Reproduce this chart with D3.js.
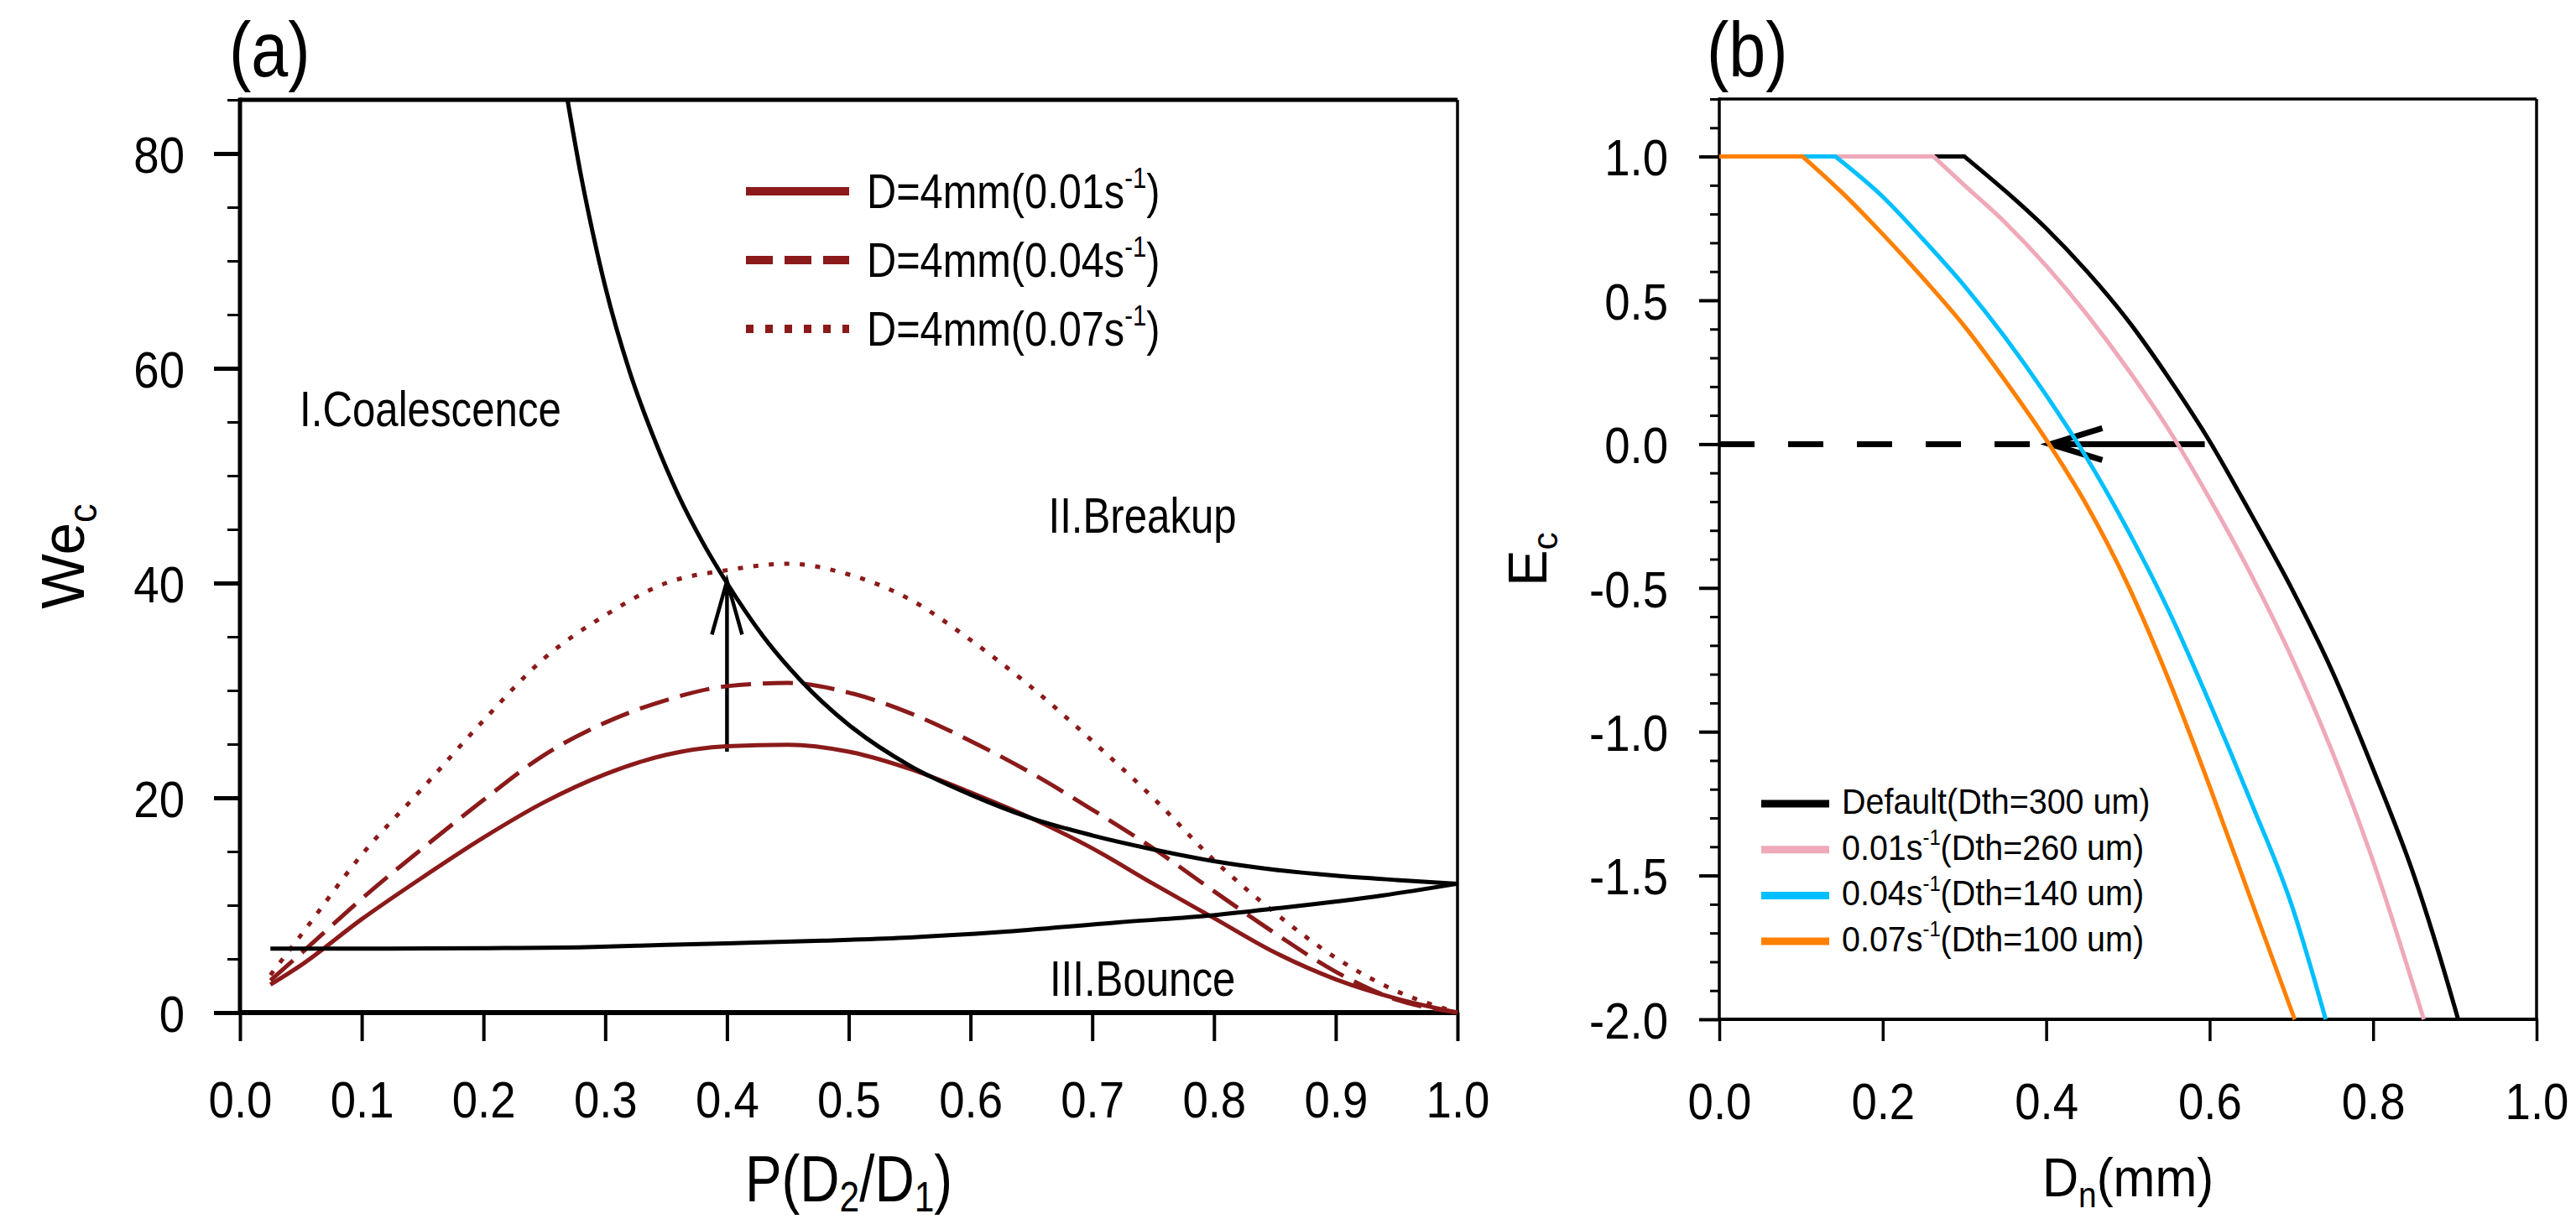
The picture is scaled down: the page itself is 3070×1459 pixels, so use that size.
<!DOCTYPE html>
<html><head><meta charset="utf-8">
<script src="https://cdn.jsdelivr.net/npm/d3@7"></script>
<style>html,body{margin:0;padding:0;background:#fff}svg{display:block;background:#fff}</style>
</head><body>
<svg id="chart" width="3070" height="1459"></svg>
<script>
// ---------------- DATA: panel (a) ----------------
const aX = [0.025,0.05,0.1,0.15,0.2,0.25,0.3,0.35,0.4,0.45,0.5,0.55,0.6,0.65,0.7,0.75,0.8,0.85,0.9,0.95,1.0];
const aRate001 = [2.6,4.4,8.7,12.6,16.3,19.6,22.2,24.0,24.8,24.95,24.3,22.7,20.5,18.1,15.3,12.0,8.8,5.6,3.1,1.3,0.0];
const aRate004 = [3.0,5.5,10.6,15.3,19.8,24.0,27.0,29.1,30.4,30.7,29.8,27.9,25.3,22.3,18.9,15.3,11.3,7.4,3.8,1.2,0.0];
const aRate007 = [3.5,7.2,14.7,20.9,27.2,33.0,37.0,40.0,41.2,41.8,40.8,38.5,34.7,30.3,25.3,20.0,14.2,9.3,5.1,2.0,0.0];
const breakupX = [0.269,0.28,0.29,0.30,0.32,0.34,0.36,0.38,0.40,0.43,0.46,0.50,0.55,0.60,0.65,0.70,0.75,0.80,0.85,0.90,0.95,1.0];
const breakupY = [85,78.0,72.5,67.6,59.7,53.5,48.2,43.8,40.0,35.0,31.0,26.8,23.0,20.3,18.1,16.5,15.2,14.1,13.3,12.75,12.35,12.0];
const bounceX = [0.025,0.1,0.2,0.285,0.35,0.4,0.479,0.55,0.624,0.721,0.793,0.851,0.938,1.0];
const bounceY = [5.95,5.95,6.0,6.1,6.3,6.45,6.7,7.0,7.5,8.4,9.0,9.7,10.9,12.0];
const aLegend = ["0.01","0.04","0.07"];
const aTicksX = [0,0.1,0.2,0.3,0.4,0.5,0.6,0.7,0.8,0.9,1.0];
const aTicksY = [0,20,40,60,80];
const aMinorY = [5,10,15,25,30,35,45,50,55,65,70,75,85];
const aArrow = {x:0.4, from:24.3, to:40.2};
const aRegions = [
  {text:"I.Coalescence", x:0.049, y:54.6},
  {text:"II.Breakup", x:0.664, y:44.7},
  {text:"III.Bounce", x:0.665, y:1.57}
];

// ---------------- DATA: panel (b) ----------------
const bDefaultX = [0,0.3,0.35,0.40,0.45,0.50,0.55,0.60,0.65,0.70,0.75,0.80,0.85,0.90,0.904];
const bDefaultY = [1,1,0.88,0.75,0.60,0.43,0.23,0.01,-0.24,-0.50,-0.79,-1.13,-1.50,-1.96,-2.0];
const b001X = [0,0.262,0.30,0.35,0.40,0.45,0.50,0.55,0.60,0.65,0.70,0.75,0.80,0.85,0.862];
const b001Y = [1,1,0.90,0.77,0.62,0.45,0.26,0.05,-0.19,-0.45,-0.74,-1.07,-1.45,-1.89,-2.0];
const b004X = [0,0.142,0.20,0.25,0.30,0.35,0.40,0.45,0.50,0.55,0.60,0.65,0.70,0.742];
const b004Y = [1,1,0.86,0.71,0.55,0.37,0.17,-0.05,-0.30,-0.58,-0.90,-1.24,-1.60,-2.0];
const b007X = [0,0.102,0.15,0.20,0.25,0.30,0.35,0.40,0.45,0.50,0.55,0.60,0.65,0.704];
const b007Y = [1,1,0.875,0.73,0.575,0.41,0.22,0.015,-0.215,-0.49,-0.82,-1.19,-1.58,-2.0];
const bLegendRate = [null,"0.01","0.04","0.07"];
const bLegendDth = ["300","260","140","100"];
const bColors = ["#000000","#EFA9B9","#00BFFF","#FF8000"];
const bTicksX = [0,0.2,0.4,0.6,0.8,1.0];
const bTicksY = [-2,-1.5,-1,-0.5,0,0.5,1];
const bMinorY = [-1.9,-1.8,-1.7,-1.6,-1.4,-1.3,-1.2,-1.1,-0.9,-0.8,-0.7,-0.6,-0.4,-0.3,-0.2,-0.1,0.1,0.2,0.3,0.4,0.6,0.7,0.8,0.9,1.1,1.2];
const bDashed = {from:0, to:0.382, y:0};
const bArrow = {from:0.594, to:0.405, y:0};

// ---------------- DRAWING ----------------
const FONT = "'Liberation Sans', Arial, Helvetica, sans-serif";
const RED = "#8B1A1A";
const svg = d3.select("#chart");

function addText(parent, x, y, parts, o) {
  const g = parent.append("g").attr("transform", `translate(${x},${y})` + (o.rotate ? ` rotate(${o.rotate})` : ""));
  const t = g.append("text").attr("transform", `scale(${o.sx || 1},1)`)
    .attr("font-family", FONT).attr("font-size", o.size)
    .attr("text-anchor", o.anchor || "start").attr("fill", "#000");
  let shift = 0;
  const subShift = o.subShift !== undefined ? o.subShift : 0.2;
  parts.forEach(p => {
    const s = typeof p === "string" ? {t: p} : p;
    let target = 0, fs = o.size;
    if (s.sub) { target = subShift * o.size; fs = 0.65 * o.size; }
    if (s.sup) { target = -0.42 * o.size; fs = 0.6 * o.size; }
    t.append("tspan").attr("dy", target - shift).attr("font-size", fs).text(s.t);
    shift = target;
  });
  return t;
}

function yAxis(scale, x0, major, minor, o) {
  const g1 = svg.append("g").attr("transform", `translate(${x0},0)`);
  g1.call(d3.axisLeft(scale).tickValues(minor).tickSize(o.minorLen).tickFormat(""));
  g1.select(".domain").remove();
  g1.selectAll("line").attr("stroke", "#000").attr("stroke-width", o.minorW);
  const g2 = svg.append("g").attr("transform", `translate(${x0},0)`);
  g2.call(d3.axisLeft(scale).tickValues(major).tickSize(o.majorLen).tickFormat(o.fmt));
  g2.select(".domain").remove();
  g2.selectAll("line").attr("stroke", "#000").attr("stroke-width", o.majorW);
  g2.selectAll("text").attr("x", -o.gap / o.sx).attr("dy", "0.36em")
    .attr("transform", `scale(${o.sx},1)`).attr("font-size", o.size)
    .attr("font-family", FONT).attr("fill", "#000");
}
function xAxis(scale, y0, major, o) {
  const g = svg.append("g").attr("transform", `translate(0,${y0})`);
  g.call(d3.axisBottom(scale).tickValues(major).tickSize(o.len).tickFormat(o.fmt));
  g.select(".domain").remove();
  g.selectAll("line").attr("stroke", "#000").attr("stroke-width", o.w);
  g.selectAll("text").attr("y", o.base).attr("dy", 0)
    .attr("transform", `scale(${o.sx},1)`).attr("font-size", o.size)
    .attr("font-family", FONT).attr("fill", "#000");
}
function seg(x1, y1, x2, y2, w, color, dash) {
  const l = svg.append("line").attr("x1", x1).attr("y1", y1).attr("x2", x2).attr("y2", y2)
    .attr("stroke", color || "#000").attr("stroke-width", w);
  if (dash) l.attr("stroke-dasharray", dash);
  return l;
}

// ===== Panel (a) =====
const xa = d3.scaleLinear().domain([0, 1]).range([286, 1737]);
const ya = d3.scaleLinear().domain([0, 85]).range([1207, 119]);

yAxis(ya, 286, aTicksY, aMinorY, {minorLen:15, minorW:3, majorLen:31, majorW:5, gap:66, sx:0.88, size:62, fmt:d3.format("d")});
xAxis(xa, 1207, aTicksX, {len:34, w:4, base:125, sx:0.88, size:62, fmt:d => d.toFixed(1)});

// frame
seg(xa(0), ya(85), xa(1), ya(85), 5);
seg(xa(0), ya(85) - 2.5, xa(0), ya(0) + 3, 5);
seg(xa(0) - 2, ya(0), xa(1) + 2, ya(0), 6);
seg(xa(1), ya(85), xa(1), ya(0), 3.5);

// arrow (a)
{
  const ax = xa(aArrow.x), y0 = ya(aArrow.from), y1 = ya(aArrow.to);
  svg.append("path").attr("d", `M${ax},${y0}L${ax},${y1}M${ax - 18},${y1 + 64}L${ax},${y1}L${ax + 18},${y1 + 64}`)
    .attr("fill", "none").attr("stroke", "#000").attr("stroke-width", 4.5).attr("stroke-linejoin", "miter");
}

const lineA = d3.line().x(d => xa(d[0])).y(d => ya(d[1])).curve(d3.curveMonotoneX);
const redSeries = [
  {vals: aRate001, dash: null},
  {vals: aRate004, dash: "36,14"},
  {vals: aRate007, dash: "6,12.5"}
];
redSeries.forEach(s => {
  const p = svg.append("path").datum(aX.map((x, i) => [x, s.vals[i]])).attr("d", lineA)
    .attr("fill", "none").attr("stroke", RED).attr("stroke-width", 5);
  if (s.dash) p.attr("stroke-dasharray", s.dash);
});
svg.append("path").datum(breakupX.map((x, i) => [x, breakupY[i]])).attr("d", lineA)
  .attr("fill", "none").attr("stroke", "#000").attr("stroke-width", 5);
svg.append("path").datum(bounceX.map((x, i) => [x, bounceY[i]])).attr("d", lineA)
  .attr("fill", "none").attr("stroke", "#000").attr("stroke-width", 5);

// region labels
aRegions.forEach(r => addText(svg, xa(r.x), ya(r.y), [r.text], {size:60, sx:0.82}));

// legend (a)
const aLegDash = [null, "32,14", "9,14"];
aLegend.forEach((rate, i) => {
  const ly = 228 + i * 82;
  seg(889, ly, 1012, ly, 10, RED, aLegDash[i]);
  addText(svg, 1033, ly + 20, ["D=4mm(" + rate + "s", {t:"-1", sup:true}, ")"], {size:58, sx:0.84});
});

// titles (a)
addText(svg, 273, 91, ["(a)"], {size:92, sx:0.86});
addText(svg, (xa(0) + xa(1)) / 2, 1432, ["P(D", {t:"2", sub:true}, "/D", {t:"1", sub:true}, ")"], {size:77, sx:0.85, anchor:"middle", subShift:0.15});
addText(svg, 100, (ya(0) + ya(85)) / 2, ["We", {t:"c", sub:true}], {size:73, sx:0.95, anchor:"middle", rotate:-90});

// ===== Panel (b) =====
const xb = d3.scaleLinear().domain([0, 1]).range([2049, 3023]);
const yb = d3.scaleLinear().domain([-2, 1.2]).range([1215, 118]);

yAxis(yb, 2049, bTicksY, bMinorY, {minorLen:11, minorW:3, majorLen:24, majorW:4, gap:61, sx:0.88, size:62, fmt:d => d.toFixed(1)});
xAxis(xb, 1215, bTicksX, {len:26, w:3.5, base:119, sx:0.88, size:62, fmt:d => d.toFixed(1)});

seg(xb(0), yb(1.2), xb(1), yb(1.2), 3.5);
seg(xb(0), yb(1.2) - 1.75, xb(0), yb(-2) + 1.75, 3.5);
seg(xb(0) - 1.75, yb(-2), xb(1) + 1.75, yb(-2), 4);
seg(xb(1), yb(1.2), xb(1), yb(-2), 3.5);

// dashed zero line and arrow
seg(xb(bDashed.from), yb(bDashed.y), xb(bDashed.to), yb(bDashed.y), 7, "#000", "42,40");
{
  const y0 = yb(bArrow.y), xt = xb(bArrow.to), xf = xb(bArrow.from);
  svg.append("path").attr("d", `M${xf},${y0}L${xt},${y0}M${xt + 62},${y0 - 19}L${xt},${y0}L${xt + 62},${y0 + 19}`)
    .attr("fill", "none").attr("stroke", "#000").attr("stroke-width", 7).attr("stroke-linejoin", "miter");
}

// curves: flat part straight, decreasing part smooth (keeps the sharp knee)
const lineBflat = d3.line().x(d => xb(d[0])).y(d => yb(d[1]));
const lineBcurve = d3.line().x(d => xb(d[0])).y(d => yb(d[1])).curve(d3.curveMonotoneX);
const bSeries = [[bDefaultX, bDefaultY], [b001X, b001Y], [b004X, b004Y], [b007X, b007Y]];
bSeries.forEach((s, i) => {
  const pts = s[0].map((x, j) => [x, s[1][j]]);
  const d = lineBflat(pts.slice(0, 2)) + lineBcurve(pts.slice(1)).replace(/^M[^LC]*/, "");
  svg.append("path").attr("d", d)
    .attr("fill", "none").attr("stroke", bColors[i]).attr("stroke-width", 5).attr("stroke-linejoin", "miter");
});

// legend (b)
bLegendDth.forEach((dth, i) => {
  const ly = 958 + i * 54.7;
  seg(2099, ly, 2180, ly, 9, bColors[i]);
  const parts = bLegendRate[i] === null
    ? ["Default(Dth=" + dth + " um)"]
    : [bLegendRate[i] + "s", {t:"-1", sup:true}, "(Dth=" + dth + " um)"];
  addText(svg, 2195, ly + 12, parts, {size:42, sx:0.94});
});

// titles (b)
addText(svg, 2034, 91, ["(b)"], {size:92, sx:0.86});
addText(svg, (xb(0) + xb(1)) / 2, 1426, ["D", {t:"n", sub:true}, "(mm)"], {size:65, sx:0.92, anchor:"middle"});
addText(svg, 1843, (yb(-2) + yb(1.2)) / 2, ["E", {t:"c", sub:true}], {size:65, sx:1, anchor:"middle", rotate:-90});
</script>
</body></html>
